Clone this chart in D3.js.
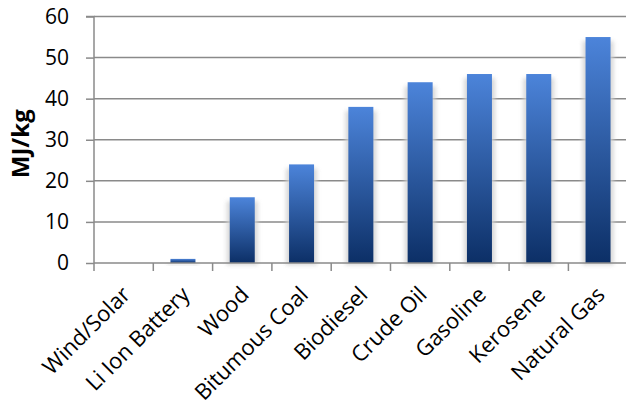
<!DOCTYPE html>
<html>
<head>
<meta charset="utf-8">
<script src="https://cdn.jsdelivr.net/npm/d3@7"></script>
<style>
  html, body { margin: 0; padding: 0; background: #fff; }
  svg { display: block; }
  text { font-family: "Open Sans", Lato, sans-serif; fill: #000; }
</style>
</head>
<body>
<div id="chart"></div>
<script>
// Energy density by fuel / storage type
const categories = ["Wind/Solar", "Li Ion Battery", "Wood", "Bitumous Coal", "Biodiesel",
                    "Crude Oil", "Gasoline", "Kerosene", "Natural Gas"];
const energyDensity = [0, 1, 16, 24, 38, 44, 46, 46, 55];
const yTicks = [0, 10, 20, 30, 40, 50, 60];
const yTitle = "MJ/kg";

const W = 626, H = 409;
const margin = { left: 94, right: 0, top: 16.5, bottom: 146 };
const FONT = "'Open Sans', Lato, sans-serif";

const svg = d3.select("#chart").append("svg")
  .attr("width", W).attr("height", H);

const defs = svg.append("defs");
const grad = defs.append("linearGradient")
  .attr("id", "barFill").attr("x1", 0).attr("y1", 0).attr("x2", 0).attr("y2", 1);
grad.append("stop").attr("offset", "0%").attr("stop-color", "#4c84da");
grad.append("stop").attr("offset", "100%").attr("stop-color", "#0c2f66");

const shadow = defs.append("filter").attr("id", "softShadow")
  .attr("x", "-50%").attr("y", "-20%").attr("width", "200%").attr("height", "140%");
shadow.append("feGaussianBlur").attr("stdDeviation", 2.2);

const x = d3.scaleBand().domain(categories)
  .range([margin.left, margin.left + 59.3 * categories.length])
  .paddingInner(0).paddingOuter(0);
const y = d3.scaleLinear().domain([0, 60]).range([H - margin.bottom, margin.top]);

// horizontal gridlines
svg.append("g").selectAll("line").data(yTicks.filter(d => d > 0)).join("line")
  .attr("x1", margin.left).attr("x2", W)
  .attr("y1", d => y(d)).attr("y2", d => y(d))
  .attr("stroke", "#8a8a8a").attr("stroke-width", 1.5);

// bar shadows
const bw = 25;
svg.append("g").selectAll("rect").data(categories).join("rect")
  .attr("x", d => x(d) + x.bandwidth() / 2 - bw / 2 - 3)
  .attr("y", (d, i) => y(energyDensity[i]) + 4)
  .attr("width", bw + 6)
  .attr("height", (d, i) => Math.max(0, y(0) - y(energyDensity[i]) - 2))
  .attr("fill", "#d0d0d0")
  .attr("opacity", (d, i) => energyDensity[i] > 0 ? 0.85 : 0)
  .attr("filter", "url(#softShadow)");

// bars
svg.append("g").selectAll("rect").data(categories).join("rect")
  .attr("x", d => x(d) + x.bandwidth() / 2 - bw / 2)
  .attr("y", (d, i) => y(energyDensity[i]))
  .attr("width", bw)
  .attr("height", (d, i) => y(0) - y(energyDensity[i]))
  .attr("fill", "url(#barFill)");

// y axis
const yAxis = d3.axisLeft(y).tickValues(yTicks).tickSize(8).tickPadding(17);
const gy = svg.append("g").attr("transform", `translate(${margin.left},0)`).call(yAxis);
gy.selectAll("line, path").attr("stroke", "#8a8a8a").attr("stroke-width", 1.5);
gy.select(".domain").attr("d", `M-8,${y(60)}H0V${y(0)}`);
gy.selectAll("text").attr("font-size", 21).attr("font-family", FONT).attr("fill", "#000");

// x axis
const xAxis = d3.axisBottom(x).tickSize(0).tickFormat("");
const gx = svg.append("g").attr("transform", `translate(0,${y(0)})`).call(xAxis);
gx.select(".domain").attr("stroke", "#8a8a8a").attr("stroke-width", 1.5)
  .attr("d", `M${margin.left},0H${W}`);
gx.selectAll(".edge").data(d3.range(categories.length + 1)).join("line")
  .attr("class", "edge")
  .attr("x1", i => margin.left + i * x.step()).attr("x2", i => margin.left + i * x.step())
  .attr("y1", 0).attr("y2", 8)
  .attr("stroke", "#8a8a8a").attr("stroke-width", 1.5);

// rotated category labels
svg.append("g").selectAll("text").data(categories).join("text")
  .attr("transform", d => `translate(${x(d) + x.bandwidth() / 2 + 8},${y(0) + 33}) rotate(-45)`)
  .attr("text-anchor", "end")
  .attr("font-size", 22)
  .text(d => d);

// y title
svg.append("text")
  .attr("transform", `translate(29,${(y(0) + y(60)) / 2 + 4}) rotate(-90)`)
  .attr("text-anchor", "middle")
  .attr("font-size", 24).attr("font-weight", "bold")
  .text(yTitle);
</script>
</body>
</html>
